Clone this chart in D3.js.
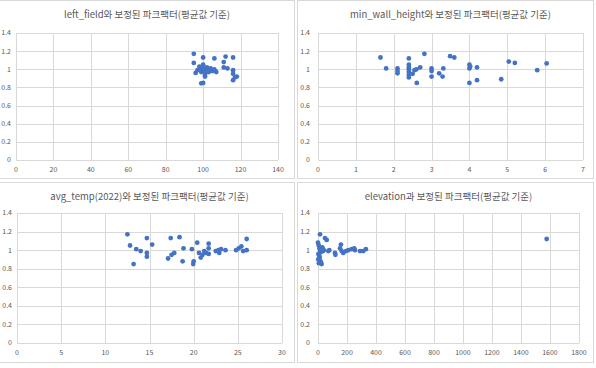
<!DOCTYPE html>
<html>
<head>
<meta charset="utf-8">
<script src="https://cdn.jsdelivr.net/npm/d3@7"></script>
<style>
  body { margin: 0; background: #fff; }
  svg { display: block; font-family: "Noto Sans CJK KR", "Noto Sans", sans-serif; }
</style>
</head>
<body>
<div id="chart"></div>
<script>
const width = 596;
const height = 368;

// 데이터: [x, 보정된 파크팩터]
const leftField = [
  [95,1.17],[95,1.07],[100,1.13],[106,1.12],[112,1.14],[116,1.13],[111,1.08],[111,1.02],[113,1.01],
  [96,0.96],[97,0.99],[98,1.03],[99,1.0],[99,0.97],[100,1.05],[100,1.01],[101,0.98],[101,0.94],
  [102,1.02],[102,0.99],[103,0.97],[104,1.01],[105,0.98],[106,1.0],[107,0.97],[100,0.85],[99,0.845],
  [101,0.92],[116,0.99],[116,0.95],[117,0.91],[118,0.92],[116,0.88],[103,1.0],[98,1.0]
];
const minWallHeight = [
  [1.65,1.13],[1.8,1.01],[2.1,1.01],[2.1,0.98],[2.1,0.955],[2.4,1.12],[2.4,1.05],[2.4,1.02],[2.4,1.0],
  [2.4,0.97],[2.4,0.94],[2.4,0.91],[2.5,0.95],[2.55,0.99],[2.61,0.85],[2.6,1.0],[2.7,1.02],[2.81,1.17],
  [3.0,1.01],[3.0,0.98],[3.0,0.92],[3.2,0.955],[3.29,0.92],[3.31,1.01],[3.49,1.145],[3.6,1.13],
  [4.0,1.05],[4.0,1.01],[4.0,0.85],[4.02,1.03],[4.2,1.02],[4.2,0.88],[4.84,0.89],[5.04,1.085],
  [5.2,1.07],[5.79,0.99],[6.04,1.065]
];
const avgTemp = [
  [12.5,1.17],[12.8,1.05],[13.2,0.85],[13.5,1.01],[14.0,0.99],[14.7,1.13],[14.7,0.97],[14.7,0.93],
  [15.3,1.06],[17.1,0.91],[17.4,1.13],[17.5,0.95],[17.8,0.97],[18.4,1.14],[18.75,0.88],[18.85,1.02],
  [19.8,1.01],[19.95,0.85],[20.0,0.88],[20.4,1.08],[20.6,0.97],[20.8,0.92],[21.0,0.95],[21.2,0.99],
  [21.4,0.97],[21.7,1.07],[21.7,1.02],[21.7,0.96],[22.5,0.99],[22.8,1.0],[22.9,0.97],[23.1,1.01],
  [23.6,1.0],[24.8,1.0],[25.1,1.02],[25.4,1.04],[25.6,0.99],[26.0,1.12],[26.0,1.0]
];
const elevation = [
  [1577,1.12],[14,1.17],[48,1.13],[60,1.11],[0,1.08],[5,1.05],[10,1.02],[15,1.0],[20,0.98],[3,0.96],
  [8,0.94],[12,0.92],[2,0.9],[18,0.88],[6,0.86],[25,0.85],[30,1.03],[35,0.99],[71,0.99],[78,1.0],
  [117,0.97],[120,0.95],[152,1.02],[158,1.06],[163,0.99],[174,0.97],[193,0.99],[209,1.0],[232,1.01],
  [250,1.02],[255,1.0],[290,0.99],[312,0.99],[330,1.01],[22,1.01],[40,1.0]
];

const titles = [
  "left_field와 보정된 파크팩터(평균값 기준)",
  "min_wall_height와 보정된 파크팩터(평균값 기준)",
  "avg_temp(2022)와 보정된 파크팩터(평균값 기준)",
  "elevation과 보정된 파크팩터(평균값 기준)"
];
const xMax = [140, 7, 30, 1800];
const xStep = [20, 1, 5, 200];
const yTicks = [0, 0.2, 0.4, 0.6, 0.8, 1, 1.2, 1.4];

const datasets = [leftField, minWallHeight, avgTemp, elevation];

// 패널 레이아웃 (차트 영역 / 플롯 영역)
const panels = [
  { box: [-2, 0, 296, 178], plot: [16, 33, 278, 160] },
  { box: [297, 0, 296, 178], plot: [318, 33, 583, 160] },
  { box: [-2, 182, 296, 180], plot: [17, 213, 282, 343] },
  { box: [297, 182, 296, 180], plot: [318, 213, 579, 343] }
];

const svg = d3.select("#chart").append("svg")
  .attr("width", width)
  .attr("height", height);

panels.forEach((p, i) => {
  const [bx, by, bw, bh] = p.box;
  const [l, t, r, b] = p.plot;

  svg.append("rect")
    .attr("x", bx + 0.5).attr("y", by + 0.5)
    .attr("width", bw).attr("height", bh)
    .attr("fill", "#fff")
    .attr("stroke", "#d9d9d9");

  const x = d3.scaleLinear().domain([0, xMax[i]]).range([l, r]);
  const y = d3.scaleLinear().domain([0, 1.4]).range([b, t]);
  const xTicks = d3.range(0, xMax[i] + xStep[i] / 2, xStep[i]);

  const g = svg.append("g");

  // 그리드
  g.selectAll(".hgrid").data(yTicks).join("line")
    .attr("x1", l).attr("x2", r)
    .attr("y1", d => Math.round(y(d)) + 0.5).attr("y2", d => Math.round(y(d)) + 0.5)
    .attr("stroke", "#d9d9d9").attr("stroke-width", 1);
  g.selectAll(".vgrid").data(xTicks).join("line")
    .attr("y1", t).attr("y2", b)
    .attr("x1", d => Math.round(x(d)) + 0.5).attr("x2", d => Math.round(x(d)) + 0.5)
    .attr("stroke", "#d9d9d9").attr("stroke-width", 1);

  // 축 라벨 (왼쪽 패널은 가장자리에서 잘리지 않게)
  const yLabOff = i % 2 === 0 ? 5 : 8;
  g.selectAll(".ylab").data(yTicks).join("text")
    .attr("x", l - yLabOff).attr("y", d => y(d))
    .attr("dy", "0.35em")
    .attr("text-anchor", "end")
    .attr("font-size", 7)
    .attr("fill", "#595959")
    .text(d => d);
  g.selectAll(".xlab").data(xTicks).join("text")
    .attr("x", d => x(d)).attr("y", b + 10)
    .attr("dy", "0.35em")
    .attr("text-anchor", "middle")
    .attr("font-size", 7)
    .attr("fill", "#595959")
    .text(d => d);

  // 제목
  g.append("text")
    .attr("x", (l + r) / 2).attr("y", by + 15)
    .attr("dy", "0.35em")
    .attr("text-anchor", "middle")
    .attr("font-size", 9.5)
    .attr("fill", "#595959")
    .text(titles[i]);

  // 점
  g.selectAll(".dot").data(datasets[i]).join("circle")
    .attr("cx", d => x(d[0]))
    .attr("cy", d => y(d[1]))
    .attr("r", 2.4)
    .attr("fill", "#4472c4");
});
</script>
</body>
</html>
